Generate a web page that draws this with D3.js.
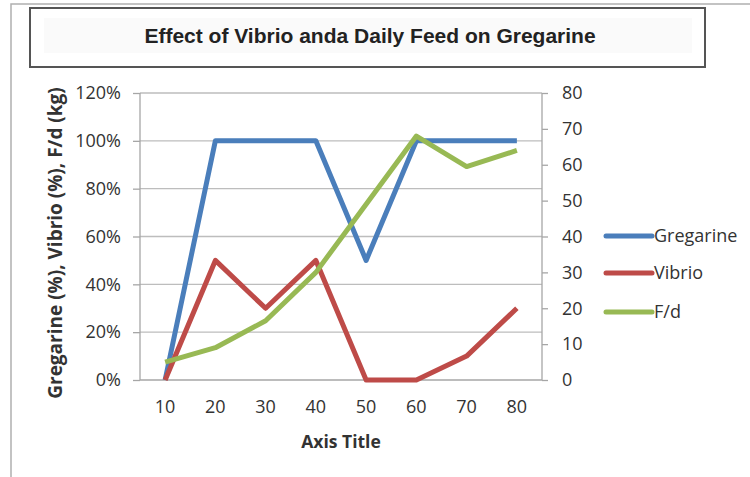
<!DOCTYPE html>
<html>
<head>
<meta charset="utf-8">
<script src="https://cdn.jsdelivr.net/npm/d3@7"></script>
<style>
  body { margin: 0; background: #fff; }
  svg { display: block; }
</style>
</head>
<body>
<svg id="chart" width="750" height="477"></svg>
<script>
// chart data
var categories = [10, 20, 30, 40, 50, 60, 70, 80];
var gregarine = [0, 1.0, 1.0, 1.0, 0.5, 1.0, 1.0, 1.0];
var vibrio = [0, 0.5, 0.3, 0.5, 0, 0, 0.1, 0.3];
var feed = [5, 9, 16.5, 30, 49, 68, 59.5, 64];
var leftTicks = [0, 0.2, 0.4, 0.6, 0.8, 1.0, 1.2];
var rightTicks = [0, 10, 20, 30, 40, 50, 60, 70, 80];
var seriesNames = ["Gregarine", "Vibrio", "F/d"];
var colors = ["#4a7ebb", "#be4b48", "#98b954"];

var margin = {top: 93, right: 208, bottom: 97, left: 140},
    width = 750 - margin.left - margin.right,
    height = 477 - margin.top - margin.bottom;

var svg = d3.select("#chart");
var font = "'Open Sans', sans-serif";

// outer chart border (cut off at right/bottom)
svg.append("path")
  .attr("d", "M11,477 V4 H750")
  .attr("fill", "none")
  .attr("stroke", "#b0b0b0")
  .attr("stroke-width", 1.5);

// title box
svg.append("rect")
  .attr("x", 30).attr("y", 8).attr("width", 675).attr("height", 59)
  .attr("fill", "#fff").attr("stroke", "#555").attr("stroke-width", 2);
svg.append("rect")
  .attr("x", 44).attr("y", 18).attr("width", 648).attr("height", 35)
  .attr("fill", "#fafafa");
svg.append("text")
  .attr("x", 370).attr("y", 43)
  .attr("text-anchor", "middle")
  .attr("font-family", "'Liberation Sans Narrow', 'Arial Narrow', sans-serif")
  .attr("font-weight", "bold")
  .attr("font-size", 21)
  .attr("fill", "#222")
  .text("Effect of Vibrio anda Daily Feed on Gregarine");

var g = svg.append("g")
  .attr("transform", "translate(" + margin.left + "," + margin.top + ")");

var x = d3.scaleBand().domain(categories).range([0, width]);
var yL = d3.scaleLinear().domain([0, 1.2]).range([height, 0]);
var yR = d3.scaleLinear().domain([0, 80]).range([height, 0]);
var cx = function(i) { return x(categories[i]) + x.bandwidth() / 2; };

// gridlines
g.selectAll(".grid").data(leftTicks.slice(1)).join("line")
  .attr("class", "grid")
  .attr("x1", 0).attr("x2", width)
  .attr("y1", d => yL(d)).attr("y2", d => yL(d))
  .attr("stroke", "#bdbdbd").attr("stroke-width", 1.3);

// left axis
var leftAxis = g.append("g")
  .call(d3.axisLeft(yL).tickValues(leftTicks).tickFormat(d3.format(".0%")).tickSize(7).tickPadding(12));
// right axis
var rightAxis = g.append("g")
  .attr("transform", "translate(" + width + ",0)")
  .call(d3.axisRight(yR).tickValues(rightTicks).tickSize(6).tickPadding(14));
// bottom axis
var bottomAxis = g.append("g")
  .attr("transform", "translate(0," + height + ")")
  .call(d3.axisBottom(x).tickSize(0).tickPadding(20));

[leftAxis, rightAxis, bottomAxis].forEach(function(a) {
  a.selectAll("path.domain").attr("stroke", "#a6a6a6").attr("stroke-width", 1.3);
  a.selectAll(".tick line").attr("stroke", "#a6a6a6").attr("stroke-width", 1.3);
  a.selectAll("text").attr("font-family", font).attr("font-size", 18).attr("fill", "#333");
});
leftAxis.select("path.domain").attr("d", "M0," + height + "V0");
rightAxis.select("path.domain").attr("d", "M0," + height + "V0");
bottomAxis.select("path.domain").attr("d", "M0,0H" + width);

// series lines
var seriesData = [
  gregarine.map((v, i) => [cx(i), yL(v)]),
  vibrio.map((v, i) => [cx(i), yL(v)]),
  feed.map((v, i) => [cx(i), yR(v)])
];
var line = d3.line();
g.selectAll(".series").data(seriesData).join("path")
  .attr("class", "series")
  .attr("d", d => line(d))
  .attr("fill", "none")
  .attr("stroke", (d, i) => colors[i])
  .attr("stroke-width", 5)
  .attr("stroke-linejoin", "round")
  .attr("stroke-linecap", "butt");

// axis titles
svg.append("text")
  .attr("x", 341).attr("y", 448)
  .attr("text-anchor", "middle")
  .attr("font-family", font).attr("font-weight", "bold").attr("font-size", 17.5)
  .attr("fill", "#333")
  .text("Axis Title");
svg.append("text")
  .attr("transform", "translate(62,243) rotate(-90)")
  .attr("text-anchor", "middle")
  .attr("font-family", font).attr("font-weight", "bold").attr("font-size", 19)
  .attr("fill", "#333")
  .text("Gregarine (%), Vibrio (%), F/d (kg)");

// legend
var legend = svg.selectAll(".legend").data(seriesNames).join("g")
  .attr("class", "legend")
  .attr("transform", (d, i) => "translate(606," + [236, 273, 312][i] + ")");
legend.append("line")
  .attr("x1", 0).attr("x2", 46)
  .attr("stroke", (d, i) => colors[i])
  .attr("stroke-width", 5)
  .attr("stroke-linecap", "round");
legend.append("text")
  .attr("x", 48).attr("dy", "0.35em")
  .attr("font-family", font).attr("font-size", 18).attr("fill", "#333")
  .text(d => d);
</script>
</body>
</html>
